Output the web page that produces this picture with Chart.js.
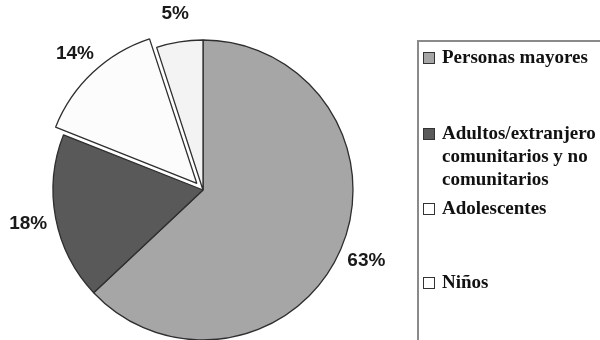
<!DOCTYPE html>
<html>
<head>
<meta charset="utf-8">
<script src="https://cdn.jsdelivr.net/npm/chart.js@4.4.1/dist/chart.umd.min.js"></script>
<style>
  body { margin: 0; background: #fff; overflow: hidden; }
  #wrap { position: relative; width: 600px; height: 340px; overflow: hidden; }
  #pie { position: absolute; left: 0; top: 0; }
  #legend {
    position: absolute; left: 417px; top: 40px; width: 200px; height: 320px;
    border: 2px solid #8a8a8a; box-sizing: border-box;
    font: bold 19px "Liberation Serif", "Times New Roman", serif; color: #111;
  }
  .item { position: absolute; left: 4px; line-height: 23px; }
  .item .box {
    position: absolute; left: 0; top: 7px; width: 10px; height: 10px;
    border: 1px solid #333;
  }
  .item .txt { display: block; margin-left: 19px; width: 165px; }
</style>
</head>
<body>
<div id="wrap">
  <canvas id="pie" width="600" height="340"></canvas>
  <div id="legend"></div>
</div>
<script>
const categories = ["Personas mayores", "Adultos/extranjero comunitarios y no comunitarios", "Adolescentes", "Niños"]
const shares = [63, 18, 14, 5]
const sliceColors = ["#a6a6a6", "#595959", "#fcfcfc", "#f3f3f3"]
const legendColors = ["#a6a6a6", "#595959", "#ffffff", "#ffffff"]

// only the teenager slice is pulled out of the pie
const sliceOffsets = [0, 0, 36, 0]

// percentage labels outside the pie
const pctLabels = {
  id: "pctLabels",
  afterDatasetsDraw(chart) {
    const ctx = chart.ctx
    const meta = chart.getDatasetMeta(0)
    ctx.save()
    ctx.font = "bold 19px 'Liberation Sans', Arial, sans-serif"
    ctx.fillStyle = "#1a1a1a"
    ctx.textAlign = "center"
    ctx.textBaseline = "middle"
    meta.data.forEach((arc, i) => {
      const { x, y, startAngle, endAngle, outerRadius } = arc.getProps(["x", "y", "startAngle", "endAngle", "outerRadius"], true)
      const mid = (startAngle + endAngle) / 2
      const shift = (arc.options.offset || 0) / 4
      const d = outerRadius + 28 + shift
      ctx.fillText(shares[i] + "%", x + Math.cos(mid) * d, y + Math.sin(mid) * d)
    })
    ctx.restore()
  },
}

new Chart(document.getElementById("pie").getContext("2d"), {
  type: "pie",
  data: {
    labels: categories,
    datasets: [
      {
        data: shares,
        backgroundColor: sliceColors,
        borderColor: "#2e2e2e",
        borderWidth: 1.3,
        offset: sliceOffsets,
        hoverOffset: 0,
      },
    ],
  },
  options: {
    responsive: false,
    animation: false,
    radius: 150,
    layout: { padding: { left: 0, right: 194, top: 40, bottom: 0 } },
    events: [],
    plugins: {
      legend: { display: false },
      tooltip: { enabled: false },
    },
  },
  plugins: [pctLabels],
})

// legend on the right, built from the same categories
const legendTops = [3, 79, 154, 228]
const legend = document.getElementById("legend")
categories.forEach((name, i) => {
  const item = document.createElement("div")
  item.className = "item"
  item.style.top = legendTops[i] + "px"
  const box = document.createElement("span")
  box.className = "box"
  box.style.background = legendColors[i]
  const txt = document.createElement("span")
  txt.className = "txt"
  txt.textContent = name
  item.appendChild(box)
  item.appendChild(txt)
  legend.appendChild(item)
})
</script>
</body>
</html>
